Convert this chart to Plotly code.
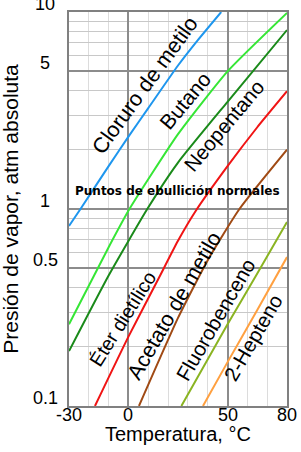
import math
import plotly.graph_objects as go

# ---- data ----
t_cloruro = [-30, -24.2, -10, 0, 10, 25, 35, 46.8]
p_cloruro = [0.82, 1.0, 1.65, 2.33, 3.25, 5.35, 7.2, 10.0]

t_butano = [-30, -10, 0.5, 25, 50, 80]
p_butano = [0.26, 0.64, 1.0, 2.4, 5.0, 9.9]

t_neopentano = [-30, -10, 9.5, 25, 50, 80]
p_neopentano = [0.19, 0.46, 1.0, 1.72, 3.5, 8.1]

t_eter = [-16.9, 0, 15, 25, 34, 50, 65, 80]
p_eter = [0.1, 0.225, 0.44, 0.69, 0.98, 1.65, 2.6, 3.96]

t_acetato = [5.3, 25, 40, 56, 80]
p_acetato = [0.1, 0.28, 0.55, 1.0, 2.0]

t_fluoro = [26.7, 50, 65, 80]
p_fluoro = [0.1, 0.26, 0.47, 0.86]

t_hepteno = [37.6, 50, 65, 80]
p_hepteno = [0.1, 0.167, 0.307, 0.57]

names = ["Cloruro de metilo", "Butano", "Neopentano", "Éter dietílico",
         "Acetato de metilo", "Fluorobenceno", "2-Hepteno"]

x_ticks = [-30, 0, 50, 80]
x_ticktext = ["-30", "0", "50", "80"]
x_minor = [-20, -10, 10, 20, 30, 40, 60, 70]
y_ticks = [0.1, 0.5, 1, 5, 10]
y_ticktext = ["0.1", "0.5", "1", "5", "10"]
y_minor = [0.2, 0.3, 0.4, 0.6, 0.7, 0.8, 0.9, 2, 3, 4, 6, 7, 8, 9]

# ---- styling ----
series = [
    (t_cloruro, p_cloruro, "#1e96ee"),
    (t_butano, p_butano, "#36e636"),
    (t_neopentano, p_neopentano, "#1a8a1a"),
    (t_eter, p_eter, "#f01414"),
    (t_acetato, p_acetato, "#a04a14"),
    (t_fluoro, p_fluoro, "#8ab422"),
    (t_hepteno, p_hepteno, "#ffa040"),
]
# label placement (temperature, log10 pressure, angle, font size)
label_pos = [
    (8.5, 0.63, -54, 21.5),
    (28.7, 0.55, -50, 21),
    (48.1, 0.424, -50, 20.5),
    (-3.1, -0.558, -58, 19.5),
    (23.0, -0.49, -60, 21.5),
    (43.9, -0.561, -60, 20.5),
    (62.8, -0.652, -60, 20.5),
]

FONT = "Liberation Sans, Arial, sans-serif"

fig = go.Figure()
for (t, p, c), n in zip(series, names):
    fig.add_trace(go.Scatter(x=t, y=p, mode="lines", name=n,
                             line=dict(color=c, width=2, shape="spline", smoothing=0.5),
                             showlegend=False, hoverinfo="skip"))

ann = []
for n, (tx, ly, ang, fs) in zip(names, label_pos):
    ann.append(dict(x=tx, y=ly, xref="x", yref="y", text=n, showarrow=False,
                    textangle=ang, font=dict(family=FONT, size=fs, color="black"),
                    xanchor="center", yanchor="middle"))

ann.append(dict(x=24.7, y=0.093, xref="x", yref="y", text="Puntos de ebullición normales",
                showarrow=False, font=dict(family="DejaVu Sans", size=12, color="black", weight="bold"),
                xanchor="center", yanchor="middle"))

for v, tt in zip(y_ticks, y_ticktext):
    ann.append(dict(x=-0.1078, y=math.log10(v), xref="paper", yref="y", text=tt,
                    showarrow=False, font=dict(family=FONT, size=18, color="black"),
                    xanchor="center", yanchor="bottom", yshift=-4))

for v, tt in zip(x_ticks, x_ticktext):
    ann.append(dict(x=v, y=-0.0227, xref="x", yref="paper", text=tt,
                    showarrow=False, font=dict(family=FONT, size=18, color="black"),
                    xanchor="center", yanchor="middle", borderpad=0))

ann.append(dict(x=0.5, y=-0.0720, xref="paper", yref="paper", text="Temperatura, °C",
                showarrow=False, font=dict(family=FONT, size=20, color="black"),
                xanchor="center", yanchor="middle", borderpad=0))
ann.append(dict(x=-0.27, y=0.501, xref="paper", yref="paper",
                text="Presión de vapor, atm absoluta", textangle=-90,
                showarrow=False, font=dict(family=FONT, size=21, color="black"),
                xanchor="center", yanchor="middle", borderpad=0))

fig.update_layout(
    width=301, height=452, autosize=False,
    margin=dict(l=69, r=14, t=10, b=46, pad=0),
    paper_bgcolor="white", plot_bgcolor="white",
    annotations=ann,
    xaxis=dict(range=[-30, 80], tickmode="array", tickvals=x_ticks,
               showticklabels=False,
               showgrid=True, gridcolor="#8c8c8c", gridwidth=1.5,
               minor=dict(tickmode="array", tickvals=x_minor, showgrid=True,
                          gridcolor="#dcdcdc", gridwidth=1, ticklen=0),
               showline=True, mirror=True, linecolor="#808080", linewidth=2,
               ticks="", zeroline=False),
    yaxis=dict(type="log", range=[-1, 1], tickmode="array", tickvals=y_ticks,
               showticklabels=False,
               showgrid=True, gridcolor="#8c8c8c", gridwidth=1.5,
               minor=dict(tickmode="array", tickvals=y_minor, showgrid=True,
                          gridcolor="#c8c8c8", gridwidth=1, ticklen=0),
               showline=True, mirror=True, linecolor="#808080", linewidth=2,
               ticks="", zeroline=False),
)

fig.write_html("out.html")
